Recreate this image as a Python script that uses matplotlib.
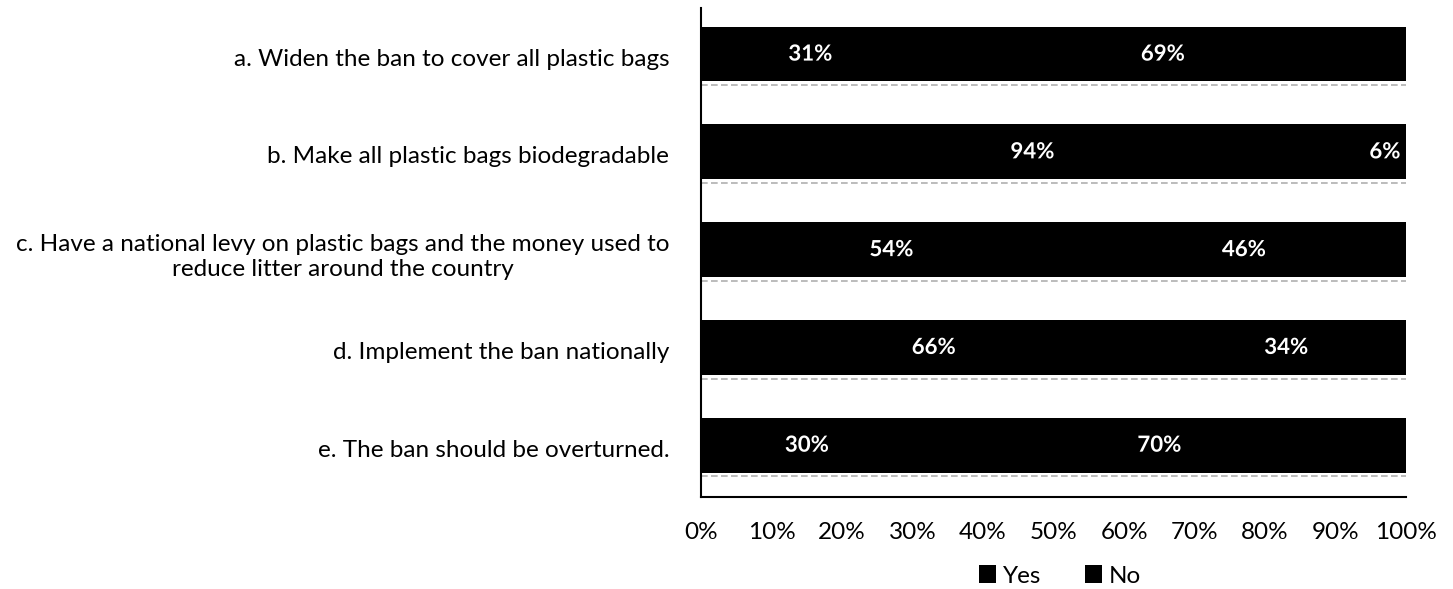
import matplotlib.pyplot as plt
import matplotlib.patheffects as pe

categories = [
    "a. Widen the ban to cover all plastic bags",
    "b. Make all plastic bags biodegradable",
    "c. Have a national levy on plastic bags and the money used to\nreduce litter around the country",
    "d. Implement the ban nationally",
    "e. The ban should be overturned.",
]
yes_vals = [31, 94, 54, 66, 30]
no_vals = [69, 6, 46, 34, 70]
xticks = [0, 10, 20, 30, 40, 50, 60, 70, 80, 90, 100]


def plot_chart():
    fig = plt.figure(figsize=(14.53, 5.89), dpi=100)
    ax = fig.add_axes([0.4825, 0.1562, 0.4852, 0.830])

    ypos = [i - 0.03 for i in range(len(categories))]
    h = 0.56
    b1 = ax.barh(ypos, yes_vals, height=h, color="black", label="Yes")
    b2 = ax.barh(ypos, no_vals, left=yes_vals, height=h, color="black", label="No")

    # faint scanned shadow line under each bar
    for y in ypos:
        ax.hlines(y + h / 2 + 0.04, 0, 100, colors="#b0b0b0", linestyles=(0, (4, 2)), linewidth=1.2)

    fx = [pe.withStroke(linewidth=2, foreground="black")]
    for y, a, b in zip(ypos, yes_vals, no_vals):
        ax.text(a / 2, y, f"{a}%", color="white", ha="center", va="center",
                fontsize=16, fontweight="bold", path_effects=fx, family="Lato")
        ax.text(a + b / 2, y, f"{b}%", color="white", ha="center", va="center",
                fontsize=16, fontweight="bold", path_effects=fx, family="Lato")

    ax.set_xlim(0, 100)
    ax.set_ylim(len(categories) - 0.5, -0.5)
    ax.set_yticks(range(len(categories)))
    ax.set_yticklabels(categories, fontsize=17.5, family="Lato", multialignment="center",
                       linespacing=1.25)
    ax.set_xticks(xticks)
    ax.set_xticklabels([f"{t}%" for t in xticks], fontsize=17.5, family="Lato")
    ax.tick_params(axis="both", length=0)
    ax.tick_params(axis="y", pad=23)
    ax.tick_params(axis="x", pad=18)
    for s in ["top", "right"]:
        ax.spines[s].set_visible(False)
    ax.spines["left"].set_linewidth(1.5)
    ax.spines["bottom"].set_linewidth(1.5)

    fig.legend(handles=[b1, b2], labels=["Yes", "No"], loc="center",
               bbox_to_anchor=(1060 / 1453, 1 - 576 / 589), ncol=2, frameon=False,
               handlelength=0.7, handleheight=0.7, handletextpad=0.3, columnspacing=1.8,
               borderpad=0.1, prop={"family": "Lato", "size": 17.5})

    fig.savefig("out.png", dpi=100)
    plt.close(fig)


if __name__ == "__main__":
    plot_chart()
